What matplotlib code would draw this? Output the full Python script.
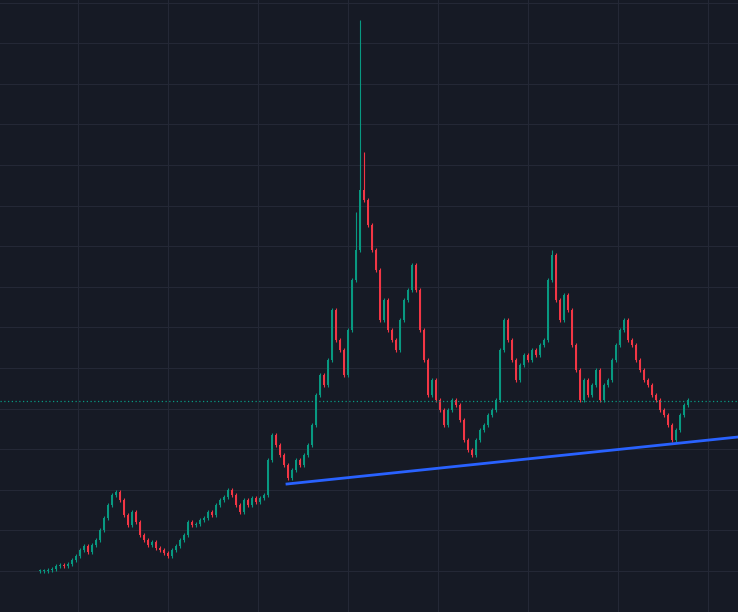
import numpy as np
import matplotlib
matplotlib.use("Agg")
import matplotlib.pyplot as plt

# closing prices, one per candle
closes = [41, 41, 42, 43, 46, 47, 46, 48, 52, 56, 62, 66, 60, 67, 72, 82, 94, 107, 117, 120,
          112, 97, 87, 100, 90, 77, 72, 67, 70, 64, 62, 59, 56, 62, 66, 72, 77, 90, 87, 88,
          92, 94, 100, 97, 107, 112, 115, 122, 117, 107, 100, 112, 107, 114, 110, 114, 117, 152, 177, 167,
          157, 147, 134, 142, 152, 147, 157, 167, 187, 217, 237, 227, 252, 302, 272, 262, 237, 282, 332, 362,
          422, 412, 387, 362, 342, 292, 312, 282, 272, 262, 292, 312, 322, 347, 322, 282, 252, 217, 232, 212,
          202, 187, 202, 212, 207, 192, 172, 162, 157, 172, 182, 187, 197, 202, 212, 262, 292, 272, 252, 232,
          247, 257, 252, 262, 257, 267, 272, 332, 357, 312, 292, 317, 302, 267, 242, 212, 232, 217, 227, 242,
          212, 227, 232, 252, 267, 282, 292, 272, 267, 252, 242, 232, 227, 217, 212, 202, 197, 187, 172, 182,
          197, 207, 212]
spike_highs = {80: 592, 81: 460, 79: 400, 128: 362}
trend_start = (61.75, 128)
trend_end = (174.5, 175)
last_price = 211

bg = "#161a25"
grid_c = "#242836"
up_c = "#089981"
down_c = "#f23645"

fig = plt.figure(figsize=(7.38, 6.12), dpi=100, facecolor=bg)
ax = fig.add_axes([0, 0, 1, 1], facecolor=bg)

n = len(closes)
idx = np.arange(n)
opens = [closes[0]] + closes[:-1]
for i in idx:
    o, c = opens[i], closes[i]
    col = up_c if c >= o else down_c
    hi = max(o, c) + 2
    lo = min(o, c) - 2
    if i in spike_highs:
        hi = spike_highs[i]
    ax.vlines(i, lo, hi, color=col, lw=0.8)
    ax.bar(i, max(abs(c - o), 0.8), bottom=min(o, c), width=0.7, color=col, linewidth=0)

ax.plot([trend_start[0], trend_end[0]], [trend_start[1], trend_end[1]], color="#2962ff", lw=2)
ax.axhline(last_price, color=up_c, lw=0.9, ls=(0, (1, 2)))

ax.set_xlim(-10, 174.5)
ax.set_ylim(0, 612)
ax.set_xticks(np.arange(9.5, 175, 22.5))
ax.set_yticks(np.arange(41, 612, 40.6))
ax.grid(True, color=grid_c, lw=0.8)
ax.set_axisbelow(True)
ax.tick_params(length=0, labelbottom=False, labelleft=False)
for s in ax.spines.values():
    s.set_visible(False)

fig.savefig("out.png", dpi=100, facecolor=bg)
